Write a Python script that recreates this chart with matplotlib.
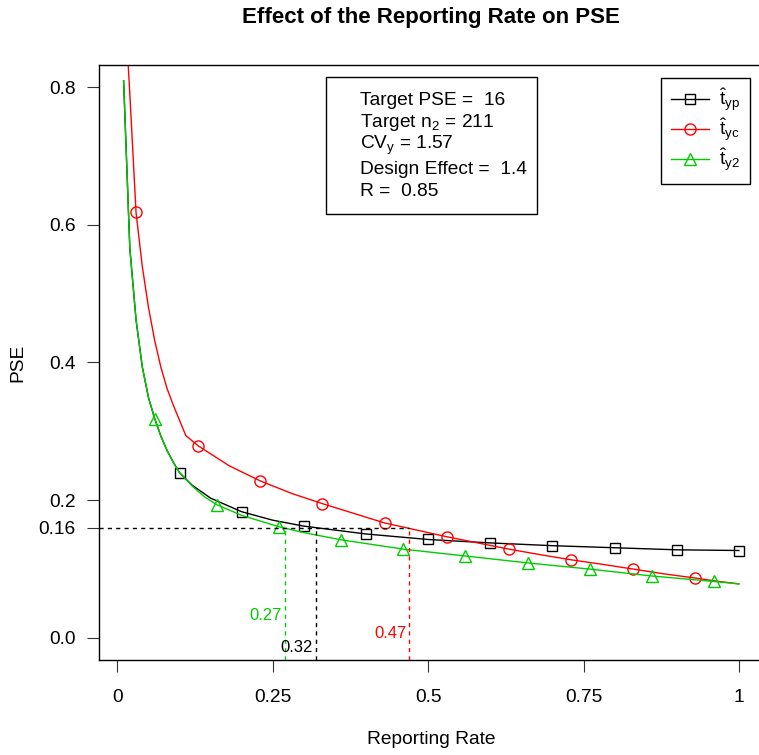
import matplotlib

matplotlib.use("Agg")
import matplotlib.pyplot as plt
import numpy as np
from matplotlib.patches import Rectangle

# ---- data -------------------------------------------------------------------
rate_yp = [0.01, 0.02, 0.03, 0.04, 0.05, 0.06, 0.07, 0.08, 0.09, 0.10,
           0.12, 0.15, 0.20, 0.25, 0.30, 0.40, 0.50, 0.60, 0.70, 0.80, 0.90, 1.00]
pse_yp = [0.809, 0.566, 0.462, 0.394, 0.349, 0.3185, 0.293, 0.272, 0.255, 0.240,
          0.222, 0.203, 0.1833, 0.171, 0.1624, 0.151, 0.143, 0.138, 0.134, 0.131, 0.128, 0.127]
mark_yp = [0.10, 0.20, 0.30, 0.40, 0.50, 0.60, 0.70, 0.80, 0.90, 1.00]

rate_yc = [0.01, 0.02, 0.03, 0.04, 0.05, 0.06, 0.07, 0.08, 0.09, 0.10, 0.11,
           0.13, 0.18, 0.23, 0.28, 0.33, 0.38, 0.43, 0.48, 0.53, 0.58, 0.63,
           0.68, 0.73, 0.78, 0.83, 0.88, 0.93, 0.96, 1.00]
pse_yc = [0.95, 0.79, 0.618, 0.540, 0.480, 0.432, 0.393, 0.362, 0.338, 0.316, 0.294,
          0.279, 0.250, 0.228, 0.210, 0.195, 0.181, 0.167, 0.157, 0.147, 0.138, 0.129,
          0.121, 0.1135, 0.107, 0.100, 0.093, 0.087, 0.083, 0.0785]
mark_yc = [0.03, 0.13, 0.23, 0.33, 0.43, 0.53, 0.63, 0.73, 0.83, 0.93]

rate_y2 = [0.01, 0.02, 0.03, 0.04, 0.05, 0.06, 0.07, 0.08, 0.09, 0.10,
           0.12, 0.14, 0.16, 0.20, 0.26, 0.30, 0.36, 0.46, 0.56, 0.66, 0.76, 0.86, 0.96, 1.00]
pse_y2 = [0.809, 0.566, 0.462, 0.394, 0.349, 0.3185, 0.293, 0.272, 0.255, 0.240,
          0.221, 0.205, 0.1935, 0.178, 0.1615, 0.153, 0.1425, 0.129, 0.119, 0.109,
          0.100, 0.090, 0.082, 0.0785]
mark_y2 = [0.06, 0.16, 0.26, 0.36, 0.46, 0.56, 0.66, 0.76, 0.86, 0.96]

TARGET_PSE = 0.16
cut_rate = {"yp": 0.32, "yc": 0.47, "y2": 0.27}

info_lines = ["Target PSE =  16", r"Target n$_2$ = 211", r"CV$_y$ = 1.57",
              "Design Effect =  1.4", "R =  0.85"]

x_ticks = [0, 0.25, 0.5, 0.75, 1]
x_ticklabels = ["0", "0.25", "0.5", "0.75", "1"]
y_ticks = [0.0, 0.16, 0.2, 0.4, 0.6, 0.8]
y_ticklabels = ["0.0", "0.16", "0.2", "0.4", "0.6", "0.8"]

RED = "#FF0000"
GREEN = "#00CD00"

plt.rcParams.update({
    "font.family": ["Liberation Sans", "DejaVu Sans"],
    "font.size": 13.8,
    "mathtext.fontset": "custom",
    "mathtext.rm": "Liberation Sans",
    "mathtext.it": "Liberation Sans",
    "mathtext.bf": "Liberation Sans:bold",
})

W, H = 759, 755
fig = plt.figure(figsize=(W / 100, H / 100), dpi=100)
# plot region in pixels: left 99, right 763.5 (off canvas), top 65, bottom 660
ax = fig.add_axes([99 / W, 1 - 660 / H, 664.5 / W, 595 / H])
ax.set_xlim(-0.0296, 1.0396)
ax.set_ylim(-0.032, 0.832)


def idx(rates, marks):
    return list(np.nonzero(np.isin(np.round(rates, 3), np.round(marks, 3)))[0])


ax.plot(rate_yp, pse_yp, color="black", lw=1.0, marker="s", ms=6.5, mfc="none",
        mew=1.0, markevery=idx(rate_yp, mark_yp), label=r"$\hat{\mathrm{t}}_{\mathrm{yp}}$")
ax.plot(rate_yc, pse_yc, color=RED, lw=1.0, marker="o", ms=8, mfc="none",
        mew=1.0, markevery=idx(rate_yc, mark_yc), label=r"$\hat{\mathrm{t}}_{\mathrm{yc}}$")
ax.plot(rate_y2, pse_y2, color=GREEN, lw=1.0, marker="^", ms=8, mfc="none",
        mew=1.0, markevery=idx(rate_y2, mark_y2), label=r"$\hat{\mathrm{t}}_{\mathrm{y2}}$")

# target PSE guide lines
xmin, _ = ax.get_xlim()
ymin, _ = ax.get_ylim()
ax.hlines(TARGET_PSE, xmin, cut_rate["yc"], colors="black", lw=1.0, linestyles=(0, (3, 3)))
for key, col in [("y2", GREEN), ("yp", "black"), ("yc", RED)]:
    ax.vlines(cut_rate[key], ymin, TARGET_PSE, colors=col, lw=1.0, linestyles=(0, (3, 3)))

ax.text(cut_rate["y2"] - 0.005, 0.032, f"{cut_rate['y2']:.2f}", color=GREEN,
        ha="right", va="center", fontsize=12)
ax.text(cut_rate["yp"] - 0.005, -0.0145, f"{cut_rate['yp']:.2f}", color="black",
        ha="right", va="center", fontsize=12)
ax.text(cut_rate["yc"] - 0.005, 0.007, f"{cut_rate['yc']:.2f}", color=RED,
        ha="right", va="center", fontsize=12)

ax.set_xticks(x_ticks)
ax.set_xticklabels(x_ticklabels)
ax.set_yticks(y_ticks)
ax.set_yticklabels(y_ticklabels)
ax.tick_params(axis="both", direction="out", length=8.6, width=0.8, color="#333333")
ax.tick_params(axis="x", pad=12)
ax.tick_params(axis="y", pad=8)
for sp in ax.spines.values():
    sp.set_linewidth(1.0)

ax.set_xlabel("Reporting Rate", labelpad=18)
ax.set_ylabel("PSE", labelpad=9)
fig.text(431 / W, 1 - 18 / H, "Effect of the Reporting Rate on PSE",
         ha="center", va="center", fontsize=16, fontweight="bold")

# info box
fig.patches.append(Rectangle((326 / W, 1 - 214 / H), 211 / W, 137 / H,
                             transform=fig.transFigure, fill=False,
                             edgecolor="black", lw=1.0))
line_base = [105, 127, 149, 174, 196]
for txt, yy in zip(info_lines, line_base):
    fig.text(360 / W, 1 - yy / H, txt, ha="left", va="baseline")

leg = ax.legend(loc="upper right", bbox_to_anchor=(749.5 / W, 1 - 77.5 / H),
                bbox_transform=fig.transFigure, borderaxespad=0, fancybox=False,
                framealpha=1, edgecolor="black", handlelength=2.0, handletextpad=0.5,
                labelspacing=0.15, borderpad=0.5)
leg.get_frame().set_linewidth(1.0)

fig.savefig("out.png", dpi=100)
